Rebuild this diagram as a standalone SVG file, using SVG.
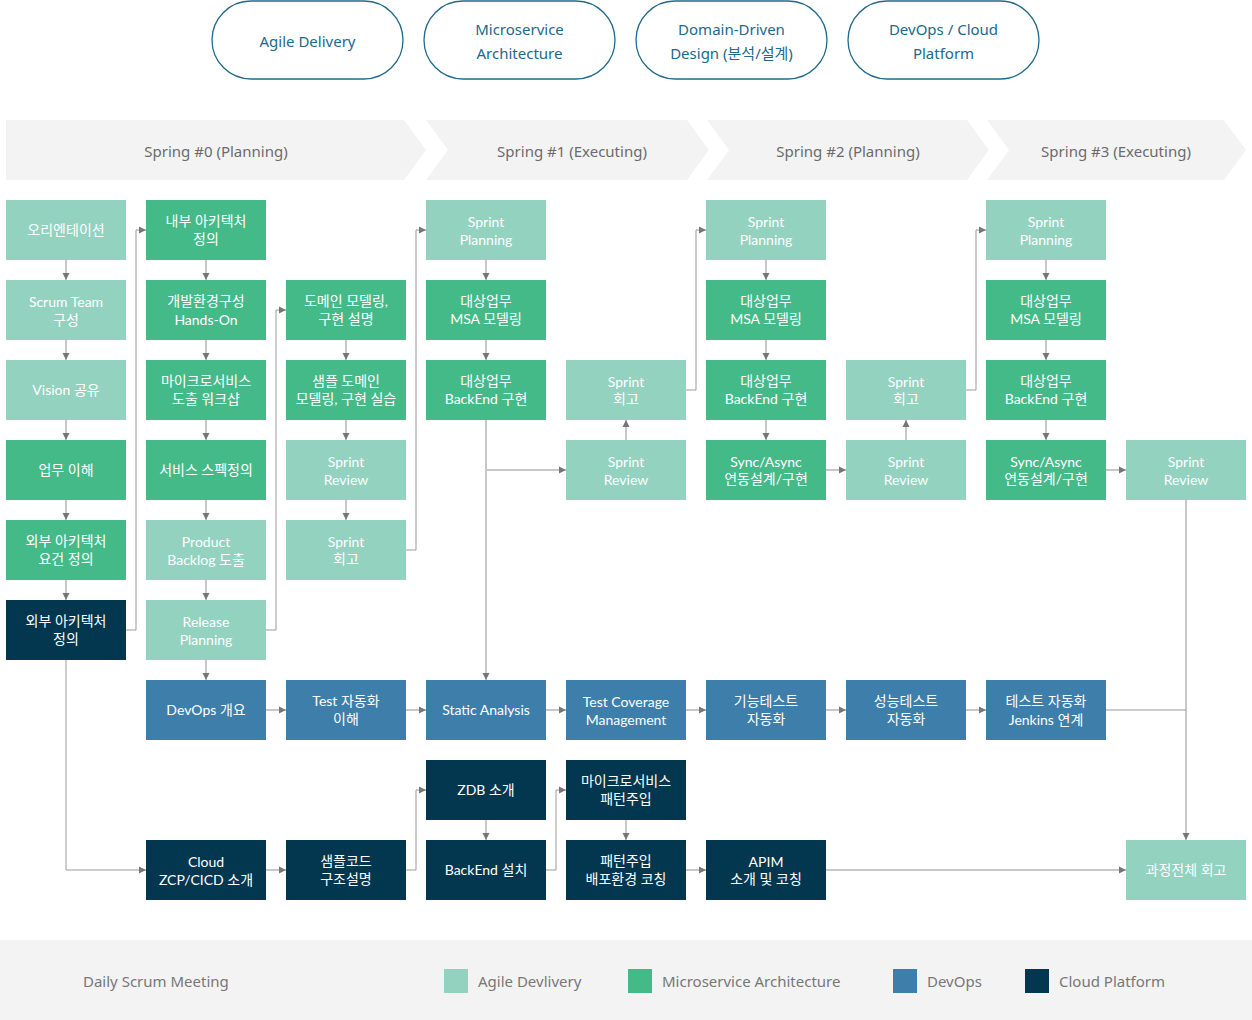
<svg xmlns="http://www.w3.org/2000/svg" width="1252" height="1020" viewBox="0 0 1252 1020">
<style>
text{font-family:"Noto Sans","Noto Sans CJK KR",sans-serif;}
.n text{fill:#fff;font-size:14px;text-anchor:middle;font-family:Lato,"Noto Sans CJK KR",sans-serif;}
.l{fill:#93D2BF}.g{fill:#45BA89}.b{fill:#3E7EAB}.d{fill:#03374F}
.pill rect{fill:#fff;stroke:#21698A;stroke-width:1.3}
.pill text{fill:#21698A;font-size:15px;text-anchor:middle}
.hd{fill:#F3F3F3}
.ht{fill:#6b6b6b;font-size:15px;text-anchor:middle}
.c{stroke:#C8C8C8;stroke-width:2;fill:none}
.t{stroke:#9A9A9A;stroke-width:1;fill:none}
.lg{fill:#777;font-size:15px}
</style>
<defs>
<marker id="a" markerWidth="8" markerHeight="8" refX="7" refY="4" orient="auto" markerUnits="userSpaceOnUse"><path d="M0,0.5 L7,4 L0,7.5z" fill="#767676"/></marker>
</defs>
<rect width="1252" height="1020" fill="#fff"/>
<g id="pills">
<g class="pill" id="p1"><rect x="212" y="1" width="191" height="78" rx="39"/><text x="307.5" y="47">Agile Delivery</text></g>
<g class="pill" id="p2"><rect x="424" y="1" width="191" height="78" rx="39"/><text x="519.5" y="35">Microservice</text><text x="519.5" y="59">Architecture</text></g>
<g class="pill" id="p3"><rect x="636" y="1" width="191" height="78" rx="39"/><text x="731.5" y="35">Domain-Driven</text><text x="731.5" y="59">Design (분석/설계)</text></g>
<g class="pill" id="p4"><rect x="848" y="1" width="191" height="78" rx="39"/><text x="943.5" y="35">DevOps / Cloud</text><text x="943.5" y="59">Platform</text></g>
</g>
<g id="headers">
<path class="hd" d="M6,120 H404 L426,150 L404,180 H6 Z"/>
<text class="ht" x="216" y="157">Spring #0 (Planning)</text>
<path class="hd" d="M426,120 H687 L709,150 L687,180 H426 L448,150 Z"/>
<text class="ht" x="572" y="157">Spring #1 (Executing)</text>
<path class="hd" d="M707,120 H967 L989,150 L967,180 H707 L729,150 Z"/>
<text class="ht" x="848" y="157">Spring #2 (Planning)</text>
<path class="hd" d="M987,120 H1224 L1246,150 L1224,180 H987 L1009,150 Z"/>
<text class="ht" x="1116" y="157">Spring #3 (Executing)</text>
</g>
<g id="connectors">
<path class="c" marker-end="url(#a)" d="M66,260V280"/>
<path class="c" marker-end="url(#a)" d="M66,340V360"/>
<path class="c" marker-end="url(#a)" d="M66,420V440"/>
<path class="c" marker-end="url(#a)" d="M66,500V520"/>
<path class="c" marker-end="url(#a)" d="M66,580V600"/>
<path class="c" marker-end="url(#a)" d="M206,260V280"/>
<path class="c" marker-end="url(#a)" d="M206,340V360"/>
<path class="c" marker-end="url(#a)" d="M206,420V440"/>
<path class="c" marker-end="url(#a)" d="M206,500V520"/>
<path class="c" marker-end="url(#a)" d="M206,580V600"/>
<path class="c" marker-end="url(#a)" d="M206,660V680"/>
<path class="c" marker-end="url(#a)" d="M346,340V360"/>
<path class="c" marker-end="url(#a)" d="M346,420V440"/>
<path class="c" marker-end="url(#a)" d="M346,500V520"/>
<path class="c" marker-end="url(#a)" d="M486,260V280"/>
<path class="c" marker-end="url(#a)" d="M486,340V360"/>
<path class="c" marker-end="url(#a)" d="M486,420V680"/>
<path class="c" marker-end="url(#a)" d="M486,470H566"/>
<path class="c" marker-end="url(#a)" d="M626,440V420"/>
<path class="c" marker-end="url(#a)" d="M766,260V280"/>
<path class="c" marker-end="url(#a)" d="M766,340V360"/>
<path class="c" marker-end="url(#a)" d="M766,420V440"/>
<path class="c" marker-end="url(#a)" d="M826,470H846"/>
<path class="c" marker-end="url(#a)" d="M906,440V420"/>
<path class="c" marker-end="url(#a)" d="M1046,260V280"/>
<path class="c" marker-end="url(#a)" d="M1046,340V360"/>
<path class="c" marker-end="url(#a)" d="M1046,420V440"/>
<path class="c" marker-end="url(#a)" d="M1106,470H1126"/>
<path class="c" marker-end="url(#a)" d="M1186,500V840"/>
<path class="c" marker-end="url(#a)" d="M266,710H286"/>
<path class="c" marker-end="url(#a)" d="M406,710H426"/>
<path class="c" marker-end="url(#a)" d="M546,710H566"/>
<path class="c" marker-end="url(#a)" d="M686,710H706"/>
<path class="c" marker-end="url(#a)" d="M826,710H846"/>
<path class="c" marker-end="url(#a)" d="M966,710H986"/>
<path class="c" marker-end="url(#a)" d="M486,820V840"/>
<path class="c" marker-end="url(#a)" d="M626,820V840"/>
<path class="c" marker-end="url(#a)" d="M266,870H286"/>
<path class="c" marker-end="url(#a)" d="M686,870H706"/>
<path class="c" marker-end="url(#a)" d="M826,870H1126"/>
<path class="t" marker-end="url(#a)" d="M126,630H136V230H146"/>
<path class="t" marker-end="url(#a)" d="M266,630H276V310H286"/>
<path class="t" marker-end="url(#a)" d="M406,550H416V230H426"/>
<path class="t" marker-end="url(#a)" d="M686,390H696V230H706"/>
<path class="t" marker-end="url(#a)" d="M966,390H976V230H986"/>
<path class="t" marker-end="url(#a)" d="M66,660V870H146"/>
<path class="t" marker-end="url(#a)" d="M406,870H416V790H426"/>
<path class="t" marker-end="url(#a)" d="M546,870H556V790H566"/>
<path class="t" d="M1106,710H1186"/>
</g>
<g id="nodes" class="n">
<g id="n00"><rect class="l" x="6" y="200" width="120" height="60"/><text x="66" y="235">오리엔테이션</text></g>
<g id="n01"><rect class="l" x="6" y="280" width="120" height="60"/><text x="66" y="307">Scrum Team</text><text x="66" y="325">구성</text></g>
<g id="n02"><rect class="l" x="6" y="360" width="120" height="60"/><text x="66" y="395">Vision 공유</text></g>
<g id="n03"><rect class="g" x="6" y="440" width="120" height="60"/><text x="66" y="475">업무 이해</text></g>
<g id="n04"><rect class="g" x="6" y="520" width="120" height="60"/><text x="66" y="546">외부 아키텍처</text><text x="66" y="564">요건 정의</text></g>
<g id="n05"><rect class="d" x="6" y="600" width="120" height="60"/><text x="66" y="626">외부 아키텍처</text><text x="66" y="644">정의</text></g>

<g id="n10"><rect class="g" x="146" y="200" width="120" height="60"/><text x="206" y="226">내부 아키텍처</text><text x="206" y="244">정의</text></g>
<g id="n11"><rect class="g" x="146" y="280" width="120" height="60"/><text x="206" y="306">개발환경구성</text><text x="206" y="325">Hands-On</text></g>
<g id="n12"><rect class="g" x="146" y="360" width="120" height="60"/><text x="206" y="386">마이크로서비스</text><text x="206" y="404">도출 워크샵</text></g>
<g id="n13"><rect class="g" x="146" y="440" width="120" height="60"/><text x="206" y="475">서비스 스펙정의</text></g>
<g id="n14"><rect class="l" x="146" y="520" width="120" height="60"/><text x="206" y="547">Product</text><text x="206" y="565">Backlog 도출</text></g>
<g id="n15"><rect class="l" x="146" y="600" width="120" height="60"/><text x="206" y="627">Release</text><text x="206" y="645">Planning</text></g>
<g id="n16"><rect class="b" x="146" y="680" width="120" height="60"/><text x="206" y="715">DevOps 개요</text></g>
<g id="n18"><rect class="d" x="146" y="840" width="120" height="60"/><text x="206" y="867">Cloud</text><text x="206" y="885">ZCP/CICD 소개</text></g>

<g id="n21"><rect class="g" x="286" y="280" width="120" height="60"/><text x="346" y="306">도메인 모델링,</text><text x="346" y="324">구현 설명</text></g>
<g id="n22"><rect class="g" x="286" y="360" width="120" height="60"/><text x="346" y="386">샘플 도메인</text><text x="346" y="404">모델링, 구현 실습</text></g>
<g id="n23"><rect class="l" x="286" y="440" width="120" height="60"/><text x="346" y="467">Sprint</text><text x="346" y="485">Review</text></g>
<g id="n24"><rect class="l" x="286" y="520" width="120" height="60"/><text x="346" y="547">Sprint</text><text x="346" y="564">회고</text></g>
<g id="n26"><rect class="b" x="286" y="680" width="120" height="60"/><text x="346" y="706">Test 자동화</text><text x="346" y="724">이해</text></g>
<g id="n28"><rect class="d" x="286" y="840" width="120" height="60"/><text x="346" y="866">샘플코드</text><text x="346" y="884">구조설명</text></g>

<g id="n30"><rect class="l" x="426" y="200" width="120" height="60"/><text x="486" y="227">Sprint</text><text x="486" y="245">Planning</text></g>
<g id="n31"><rect class="g" x="426" y="280" width="120" height="60"/><text x="486" y="306">대상업무</text><text x="486" y="324">MSA 모델링</text></g>
<g id="n32"><rect class="g" x="426" y="360" width="120" height="60"/><text x="486" y="386">대상업무</text><text x="486" y="404">BackEnd 구현</text></g>
<g id="n36"><rect class="b" x="426" y="680" width="120" height="60"/><text x="486" y="715">Static Analysis</text></g>
<g id="n37"><rect class="d" x="426" y="760" width="120" height="60"/><text x="486" y="795">ZDB 소개</text></g>
<g id="n38"><rect class="d" x="426" y="840" width="120" height="60"/><text x="486" y="875">BackEnd 설치</text></g>

<g id="n42"><rect class="l" x="566" y="360" width="120" height="60"/><text x="626" y="387">Sprint</text><text x="626" y="404">회고</text></g>
<g id="n43"><rect class="l" x="566" y="440" width="120" height="60"/><text x="626" y="467">Sprint</text><text x="626" y="485">Review</text></g>
<g id="n46"><rect class="b" x="566" y="680" width="120" height="60"/><text x="626" y="707">Test Coverage</text><text x="626" y="725">Management</text></g>
<g id="n47"><rect class="d" x="566" y="760" width="120" height="60"/><text x="626" y="786">마이크로서비스</text><text x="626" y="804">패턴주입</text></g>
<g id="n48"><rect class="d" x="566" y="840" width="120" height="60"/><text x="626" y="866">패턴주입</text><text x="626" y="884">배포환경 코칭</text></g>

<g id="n50"><rect class="l" x="706" y="200" width="120" height="60"/><text x="766" y="227">Sprint</text><text x="766" y="245">Planning</text></g>
<g id="n51"><rect class="g" x="706" y="280" width="120" height="60"/><text x="766" y="306">대상업무</text><text x="766" y="324">MSA 모델링</text></g>
<g id="n52"><rect class="g" x="706" y="360" width="120" height="60"/><text x="766" y="386">대상업무</text><text x="766" y="404">BackEnd 구현</text></g>
<g id="n53"><rect class="g" x="706" y="440" width="120" height="60"/><text x="766" y="467">Sync/Async</text><text x="766" y="484">연동설계/구현</text></g>
<g id="n56"><rect class="b" x="706" y="680" width="120" height="60"/><text x="766" y="706">기능테스트</text><text x="766" y="724">자동화</text></g>
<g id="n58"><rect class="d" x="706" y="840" width="120" height="60"/><text x="766" y="867">APIM</text><text x="766" y="884">소개 및 코칭</text></g>

<g id="n62"><rect class="l" x="846" y="360" width="120" height="60"/><text x="906" y="387">Sprint</text><text x="906" y="404">회고</text></g>
<g id="n63"><rect class="l" x="846" y="440" width="120" height="60"/><text x="906" y="467">Sprint</text><text x="906" y="485">Review</text></g>
<g id="n66"><rect class="b" x="846" y="680" width="120" height="60"/><text x="906" y="706">성능테스트</text><text x="906" y="724">자동화</text></g>

<g id="n70"><rect class="l" x="986" y="200" width="120" height="60"/><text x="1046" y="227">Sprint</text><text x="1046" y="245">Planning</text></g>
<g id="n71"><rect class="g" x="986" y="280" width="120" height="60"/><text x="1046" y="306">대상업무</text><text x="1046" y="324">MSA 모델링</text></g>
<g id="n72"><rect class="g" x="986" y="360" width="120" height="60"/><text x="1046" y="386">대상업무</text><text x="1046" y="404">BackEnd 구현</text></g>
<g id="n73"><rect class="g" x="986" y="440" width="120" height="60"/><text x="1046" y="467">Sync/Async</text><text x="1046" y="484">연동설계/구현</text></g>
<g id="n76"><rect class="b" x="986" y="680" width="120" height="60"/><text x="1046" y="706">테스트 자동화</text><text x="1046" y="725">Jenkins 연계</text></g>

<g id="n83"><rect class="l" x="1126" y="440" width="120" height="60"/><text x="1186" y="467">Sprint</text><text x="1186" y="485">Review</text></g>
<g id="n88"><rect class="l" x="1126" y="840" width="120" height="60"/><text x="1186" y="875">과정전체 회고</text></g>
</g>
<g id="legend">
<rect x="0" y="940" width="1252" height="80" fill="#F3F3F3"/>
<text class="lg" x="83" y="987">Daily Scrum Meeting</text>
<rect class="l" x="444" y="969" width="24" height="24"/><text class="lg" x="478" y="987">Agile Devlivery</text>
<rect class="g" x="628" y="969" width="24" height="24"/><text class="lg" x="662" y="987">Microservice Architecture</text>
<rect class="b" x="893" y="969" width="24" height="24"/><text class="lg" x="927" y="987">DevOps</text>
<rect class="d" x="1025" y="969" width="24" height="24"/><text class="lg" x="1059" y="987">Cloud Platform</text>
</g>
</svg>
